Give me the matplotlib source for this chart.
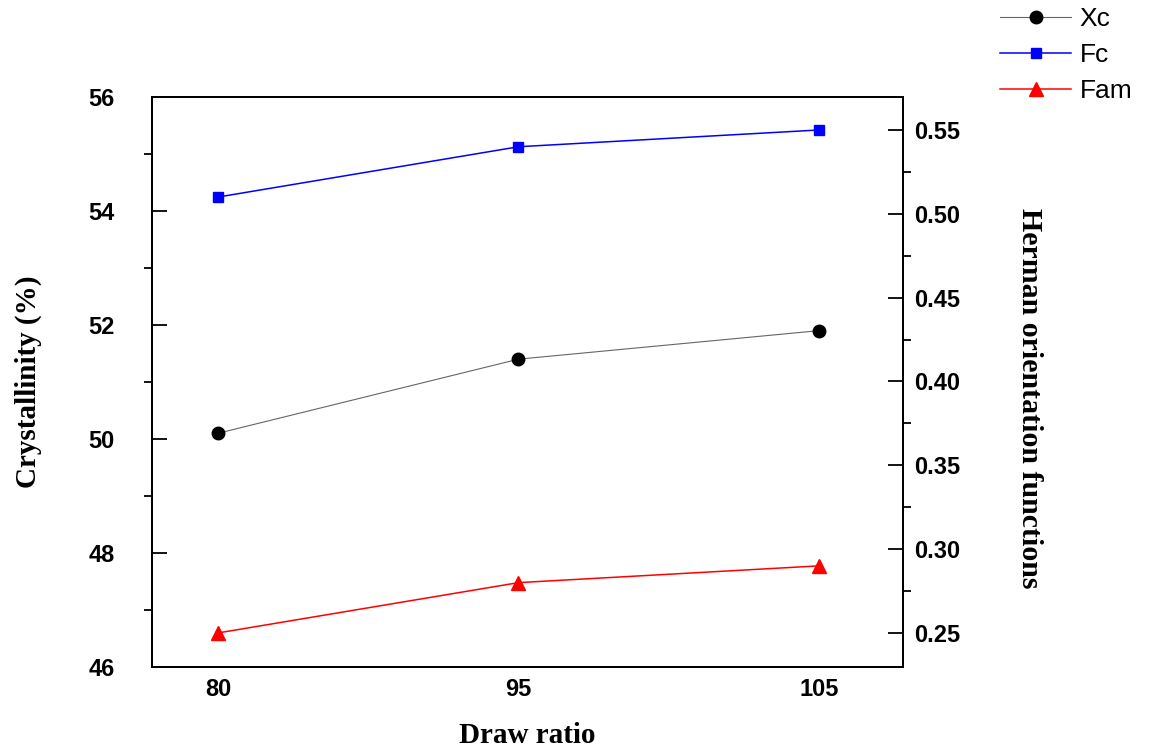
import matplotlib.pyplot as plt
from matplotlib.ticker import MultipleLocator

# draw ratios (categorical x positions)
draw_ratio = ["80", "95", "105"]
xc = [50.1, 51.4, 51.9]          # crystallinity, %
fc = [0.51, 0.54, 0.55]          # crystalline orientation
fam = [0.25, 0.28, 0.29]         # amorphous orientation

x = list(range(len(draw_ratio)))

fig = plt.figure(figsize=(11.49, 7.51), dpi=100)
ax = fig.add_axes([0.1323, 0.1119, 0.6536, 0.759])
ax2 = ax.twinx()

tick_font = {"family": "Liberation Sans", "weight": "bold", "size": 17}
label_font = {"family": "Liberation Serif", "weight": "bold", "size": 21}

l1, = ax.plot(x, xc, color="#666666", lw=0.8, marker="o", ms=9,
              mfc="black", mec="black", label="Xc")
l2, = ax2.plot(x, fc, color="blue", lw=1.1, marker="s", ms=7.5,
               mfc="blue", mec="blue", label="Fc")
l3, = ax2.plot(x, fam, color="red", lw=1.1, marker="^", ms=10,
               mfc="red", mec="red", label="Fam")

ax.set_xlim(-0.22, 2.28)
ax.set_ylim(46, 56)
ax2.set_ylim(0.2297, 0.5697)

ax.set_xticks(x)
ax.set_xticklabels(draw_ratio, fontdict=tick_font)
ax.tick_params(axis="x", length=0, pad=8)

# major ticks point inward, minor ticks outward
ax.yaxis.set_major_locator(MultipleLocator(2))
ax.yaxis.set_minor_locator(MultipleLocator(1))
ax2.yaxis.set_major_locator(MultipleLocator(0.05))
ax2.yaxis.set_minor_locator(MultipleLocator(0.025))
ax.tick_params(axis="y", which="major", direction="in", length=11, width=1.3, pad=27)
ax.tick_params(axis="y", which="minor", direction="out", length=6, width=1.3)
ax2.tick_params(axis="y", which="major", direction="in", length=11, width=1.3, pad=8)
ax2.tick_params(axis="y", which="minor", direction="out", length=6, width=1.3)

for lab in ax.get_yticklabels():
    lab.set_fontproperties(tick_font)
ax2.set_yticks([0.25, 0.30, 0.35, 0.40, 0.45, 0.50, 0.55])
ax2.set_yticklabels(["%.2f" % v for v in ax2.get_yticks()], fontdict=tick_font)

for a in (ax, ax2):
    for s in a.spines.values():
        s.set_linewidth(1.4)

ax.set_xlabel("Draw ratio", fontdict=label_font, labelpad=15)
ax.set_ylabel("Crystallinity (%)", fontdict=label_font, labelpad=33)
ax2.set_ylabel("Herman orientation functions", fontdict={**label_font, "size": 21.5},
               rotation=-90, va="bottom")
ax2.yaxis.set_label_coords(1.151, 0.472)

fig.legend(handles=[l1, l2, l3], loc="upper right", bbox_to_anchor=(1.006, 1.022),
           frameon=False, prop={"family": "Liberation Sans", "size": 19},
           handlelength=2.7, handletextpad=0.3, labelspacing=0.45)

fig.savefig("out.png", dpi=100)
